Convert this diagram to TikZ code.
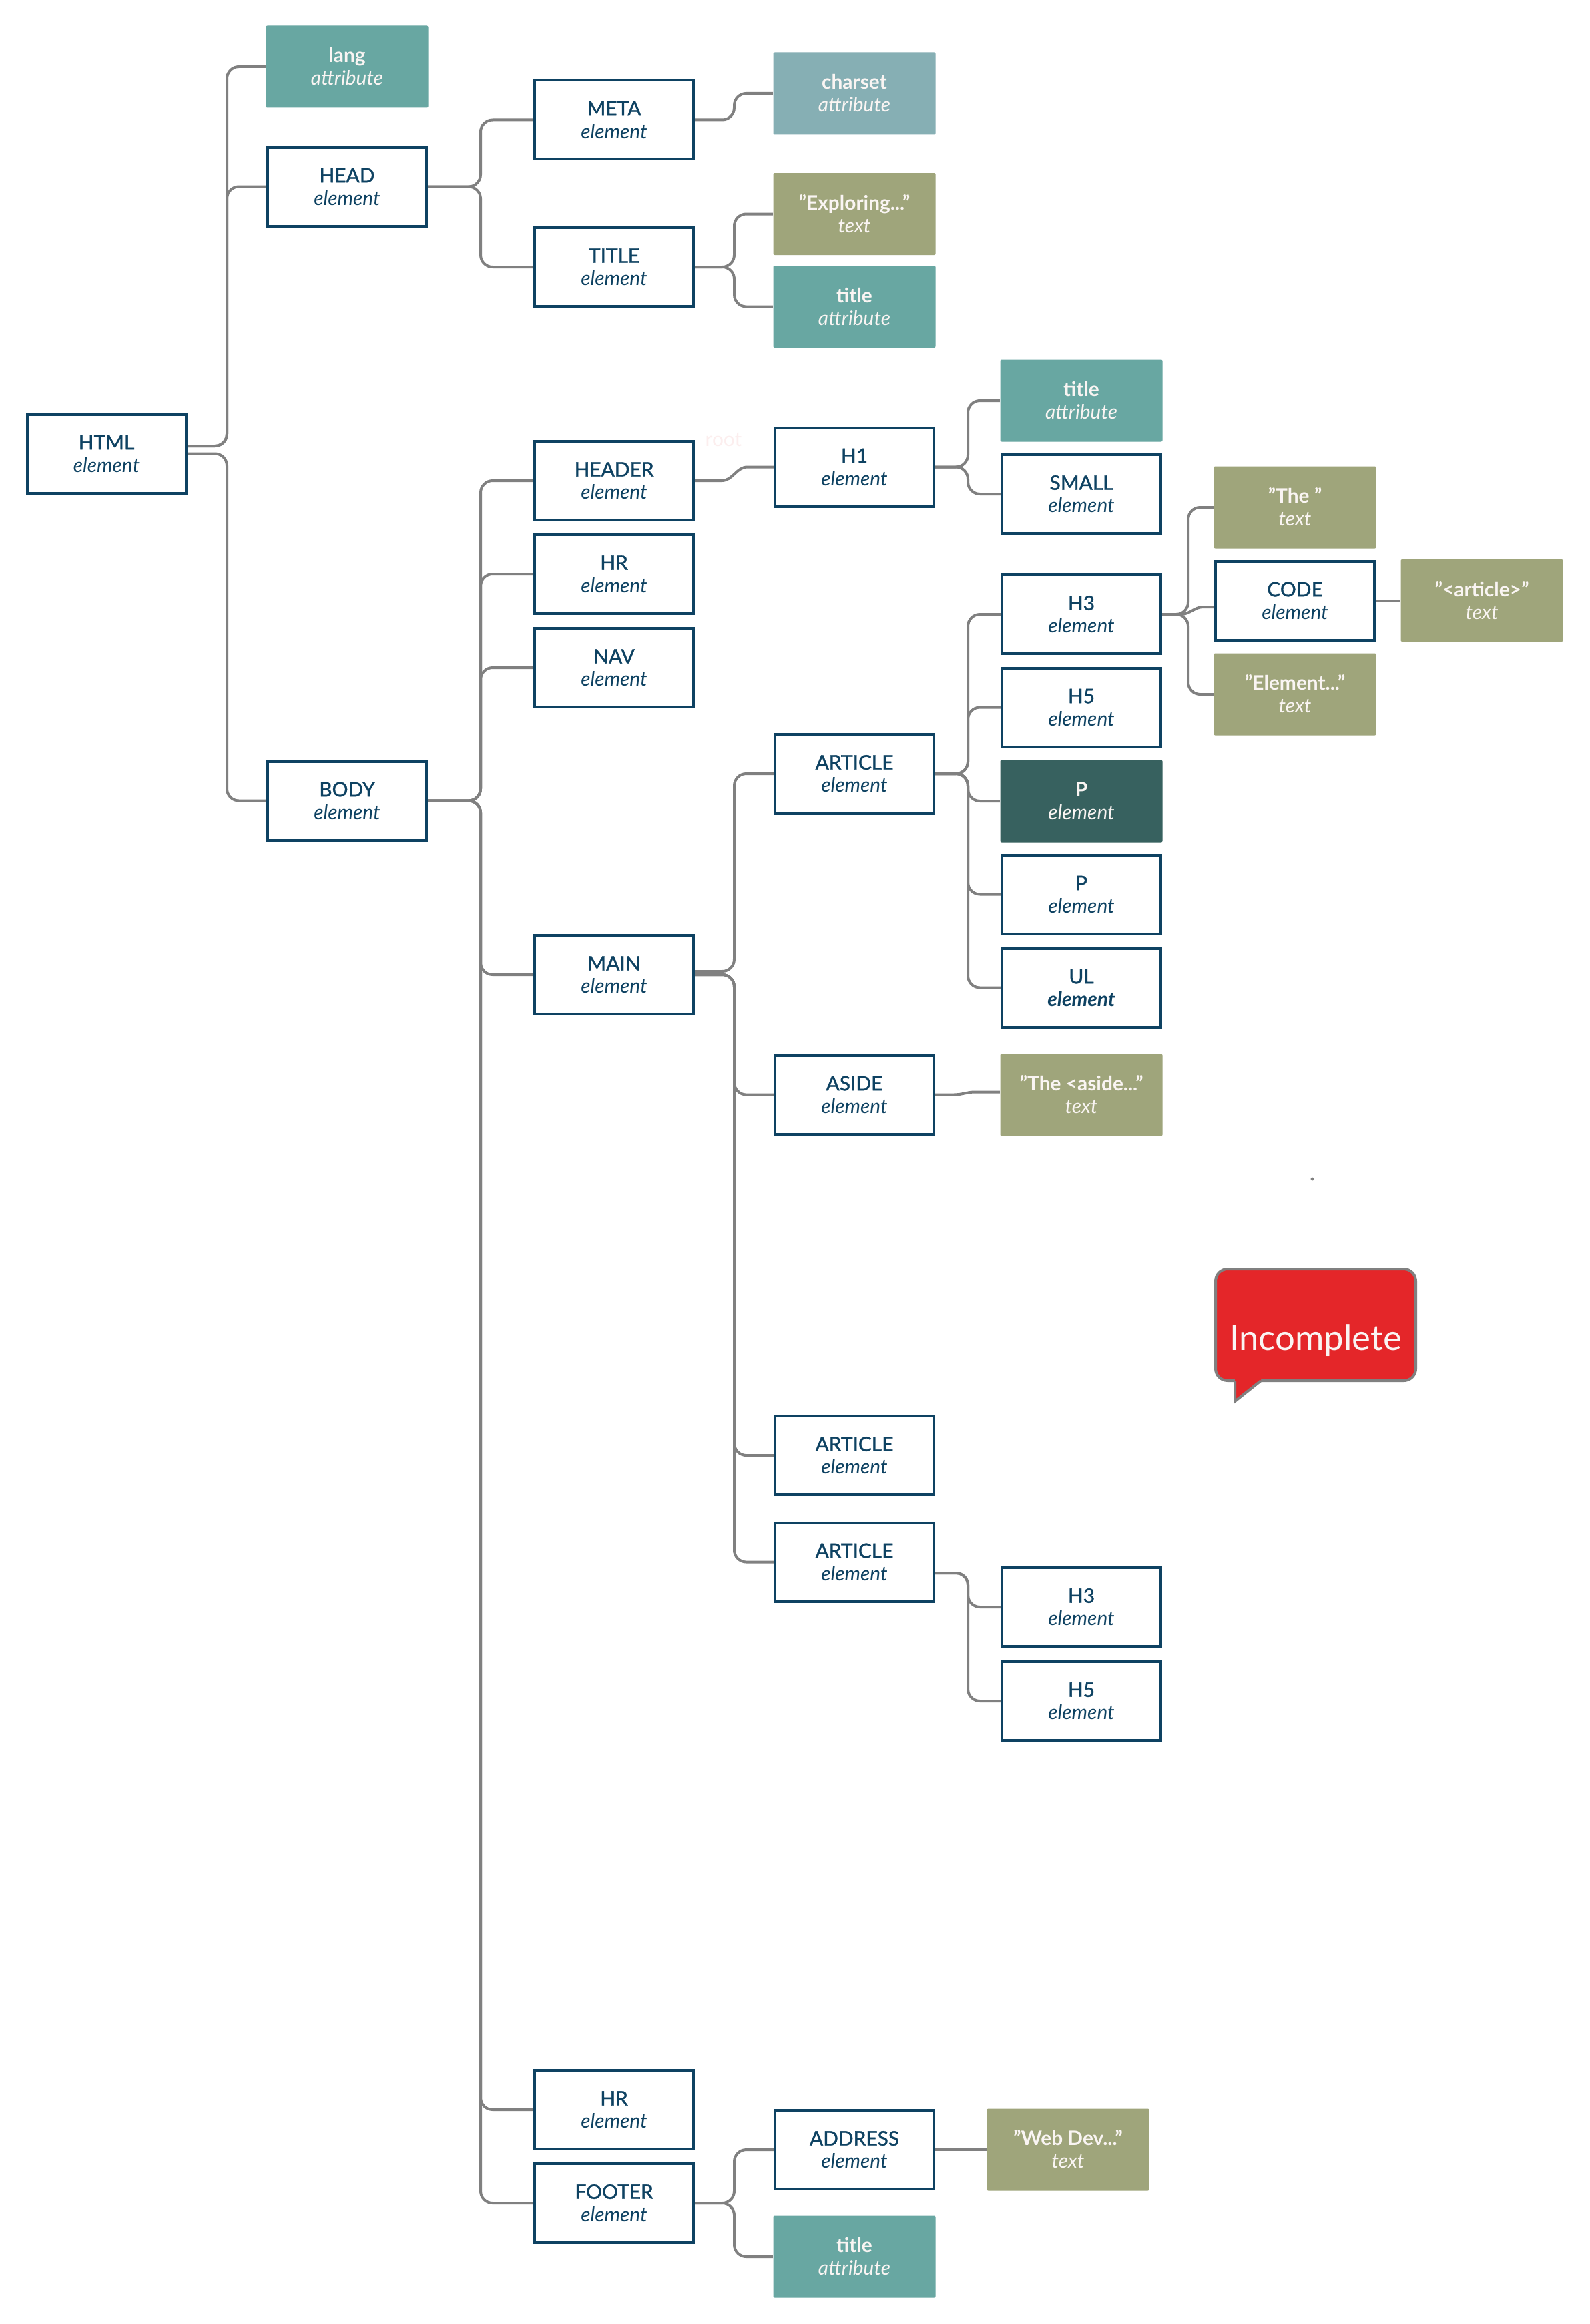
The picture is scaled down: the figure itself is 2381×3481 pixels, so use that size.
\documentclass[tikz,border=0pt]{standalone}
\usepackage{fontspec}
\setmainfont{Lato}
\newfontfamily\medium[FakeBold=1.2]{Lato}
\usetikzlibrary{backgrounds}

\definecolor{elblue}{HTML}{0E4262}
\definecolor{attrteal}{HTML}{68A7A2}
\definecolor{attrblue}{HTML}{86AFB4}
\definecolor{txtolive}{HTML}{9FA57B}
\definecolor{pdark}{HTML}{37615F}
\definecolor{linkgray}{HTML}{808080}
\definecolor{alertred}{HTML}{E42629}
\definecolor{lighttext}{HTML}{FAF5F3}
\definecolor{rootpink}{HTML}{FCEEEE}

% two-line label: fixed first-line height, no depth, fixed baseline skip
\newcommand\twoline[2]{\smash{#1}\rule{0pt}{2.15mm}\\\smash{#2}}
% element box label: medium-weight tag name over italic "element"
\newcommand\eltag[1]{\twoline{\medium #1}{\itshape element}}

\tikzset{
  lbl/.style={align=center, inner sep=0pt,
    font=\fontsize{8.5pt}{9.7pt}\selectfont},
  elem/.style={lbl, draw=elblue, line width=0.4mm, fill=white, text=elblue,
    minimum width=23.8mm, minimum height=11.8mm},
  colbox/.style={lbl, text=lighttext, minimum width=24.3mm,
    minimum height=12.3mm, rounded corners=0.2mm},
  attrbox/.style={colbox, fill=attrteal},
  attrbluebox/.style={colbox, fill=attrblue},
  txtbox/.style={colbox, fill=txtolive},
  darkbox/.style={colbox, fill=pdark},
  sconn/.style={draw=linkgray, line width=0.4mm},
  conn/.style={sconn, rounded corners=1.8mm},
}

\begin{document}
\begin{tikzpicture}[x=0.1mm, y=-0.1mm]
\useasboundingbox (0,0) rectangle (2381,3481);

% ---- level 0
\node[elem] (html) at (159.5,679.5) {\eltag{HTML}};

% ---- level 1
\node[attrbox] (lang) at (520,100) {\twoline{\bfseries lang}{\itshape attribute}};
\node[elem] (head) at (520,279.5) {\eltag{HEAD}};
\node[elem] (body) at (520,1199.5) {\eltag{BODY}};

% ---- level 2
\node[elem] (meta) at (920,179.5) {\eltag{META}};
\node[elem] (title) at (920,400) {\eltag{TITLE}};
\node[elem] (header) at (920,720) {\eltag{HEADER}};
\node[elem] (hr) at (920,860) {\eltag{HR}};
\node[elem] (nav) at (920,1000) {\eltag{NAV}};
\node[elem] (main) at (920,1460) {\eltag{MAIN}};
\node[elem] (hrb) at (920,3160) {\eltag{HR}};
\node[elem] (footer) at (920,3300) {\eltag{FOOTER}};

% ---- level 3
\node[attrbluebox] (charset) at (1280,140) {\twoline{\bfseries charset}{\itshape attribute}};
\node[txtbox] (exploring) at (1280,320.5) {\twoline{\bfseries "Exploring..."}{\itshape text}};
\node[attrbox] (titleattr) at (1280,459.5) {\twoline{\bfseries title}{\itshape attribute}};
\node[elem] (hone) at (1280,699.5) {\eltag{H1}};
\node[elem] (article) at (1280,1159) {\eltag{ARTICLE}};
\node[elem] (aside) at (1280,1639.5) {\eltag{ASIDE}};
\node[elem] (articleb) at (1280,2180) {\eltag{ARTICLE}};
\node[elem] (articlec) at (1280,2339.5) {\eltag{ARTICLE}};
\node[elem] (address) at (1280,3220) {\eltag{ADDRESS}};
\node[attrbox] (footattr) at (1280,3380) {\twoline{\bfseries title}{\itshape attribute}};

% ---- level 4
\node[attrbox] (honeattr) at (1620,600) {\twoline{\bfseries title}{\itshape attribute}};
\node[elem] (small) at (1620,740) {\eltag{SMALL}};
\node[elem] (hthree) at (1620,920) {\eltag{H3}};
\node[elem] (hfive) at (1620,1059.5) {\eltag{H5}};
\node[darkbox] (pone) at (1620,1200) {\twoline{\bfseries P}{\itshape element}};
\node[elem] (ptwo) at (1620,1339.5) {\eltag{P}};
\node[elem] (ul) at (1620,1479.5) {\twoline{\medium UL}{\bfseries\itshape element}};
\node[txtbox] (asidetxt) at (1620,1640) {\twoline{\bfseries "The <aside..."}{\itshape text}};
\node[elem] (hthreeb) at (1620,2407) {\eltag{H3}};
\node[elem] (hfiveb) at (1620,2548) {\eltag{H5}};
\node[txtbox] (webdev) at (1600,3220) {\twoline{\bfseries "Web Dev..."}{\itshape text}};

% ---- level 5 and 6
\node[txtbox] (thetxt) at (1940,760) {\twoline{\bfseries "The\ "}{\itshape text}};
\node[elem] (code) at (1940,899.5) {\eltag{CODE}};
\node[txtbox] (elemtxt) at (1940,1040) {\twoline{\bfseries "Element..."}{\itshape text}};
\node[txtbox] (articletxt) at (2220,899.5) {\twoline{\bfseries "<article>"}{\itshape text}};

% ---- faint label and stray dot
\node[lbl, text=rootpink] (rootlbl) at (1084,659) {root};
\node[circle, fill=linkgray, inner sep=0pt, minimum size=0.5mm] (dot) at (1966,1766) {};

% ---- speech bubble
\draw[fill=alertred, draw=linkgray, line width=0.4mm, rounded corners=1.8mm]
  (1821,1901) rectangle (2121,2068);
\fill[alertred] (1850,2058) -- (1889,2058) -- (1889,2068) -- (1850,2099) -- cycle;
\draw[linkgray, line width=0.4mm, line join=miter] (1850,2068) -- (1850,2099) -- (1889,2068);
\node[anchor=base, inner sep=0pt, text=lighttext,
  font=\fontsize{15pt}{18pt}\selectfont] (incomplete) at (1971,2022) {Incomplete};

% ---- connectors
\begin{scope}[on background layer]
\fill[white] (0,0) rectangle (2381,3481);

\coordinate (busA) at (340,0);
\coordinate (busB) at (720,0);
\coordinate (busC) at (1100,0);
\coordinate (busD) at (1450,0);
\coordinate (busE) at (1780,0);

\coordinate (htmlup) at ([yshift=1.15mm]html.east);
\draw[conn] (htmlup) -- (htmlup -| busA) |- (lang.west);
\draw[conn] (htmlup) -- (htmlup -| busA) |- (head.west);
\draw[conn] (html.east) -- (html.east -| busA) |- (body.west);

\foreach \c in {meta,title}
  \draw[conn] (head.east) -- (head.east -| busB) |- (\c.west);
\draw[conn] (meta.east) -- (meta.east -| busC) |- (charset.west);
\foreach \c in {exploring,titleattr}
  \draw[conn] (title.east) -- (title.east -| busC) |- (\c.west);

\foreach \c in {header,hr,nav,main,hrb,footer}
  \draw[conn] (body.east) -- (body.east -| busB) |- (\c.west);

% near-level links bend in a soft S
\draw[sconn] (header.east) -- ++(40,0) to[out=0,in=180] ([xshift=-3.9mm]hone.west) -- (hone.west);

\foreach \c in {honeattr,small}
  \draw[conn] (hone.east) -- (hone.east -| busD) |- (\c.west);

\coordinate (mainup) at ([yshift=0.5mm]main.east);
\draw[conn] (mainup) -- (mainup -| busC) |- (article.west);
\foreach \c in {aside,articleb,articlec}
  \draw[conn] (main.east) -- (main.east -| busC) |- (\c.west);

\foreach \c in {hthree,hfive,pone,ptwo,ul}
  \draw[conn] (article.east) -- (article.east -| busD) |- (\c.west);

\coordinate (asidein) at ([yshift=0.45mm]asidetxt.west);
\draw[sconn] (aside.east) -- ++(28,0) to[out=0,in=180] ([xshift=-3.7mm]asidein) -- (asidein);

\coordinate (artdown) at ([yshift=-1.65mm]articlec.east);
\foreach \c in {hthreeb,hfiveb}
  \draw[conn] (artdown) -- (artdown -| busD) |- (\c.west);

\foreach \c in {thetxt,elemtxt}
  \draw[conn] (hthree.east) -- (hthree.east -| busE) |- (\c.west);
\coordinate (codein) at ([yshift=-0.95mm]code.west);
\draw[sconn] (hthree.east) -- ++(28,0) to[out=0,in=180] ([xshift=-1.6mm]codein) -- (codein);
\draw[sconn] (code.east) -- (articletxt.west);

\foreach \c in {address,footattr}
  \draw[conn] (footer.east) -- (footer.east -| busC) |- (\c.west);
\draw[sconn] (address.east) -- (webdev.west);
\end{scope}
\end{tikzpicture}
\end{document}
